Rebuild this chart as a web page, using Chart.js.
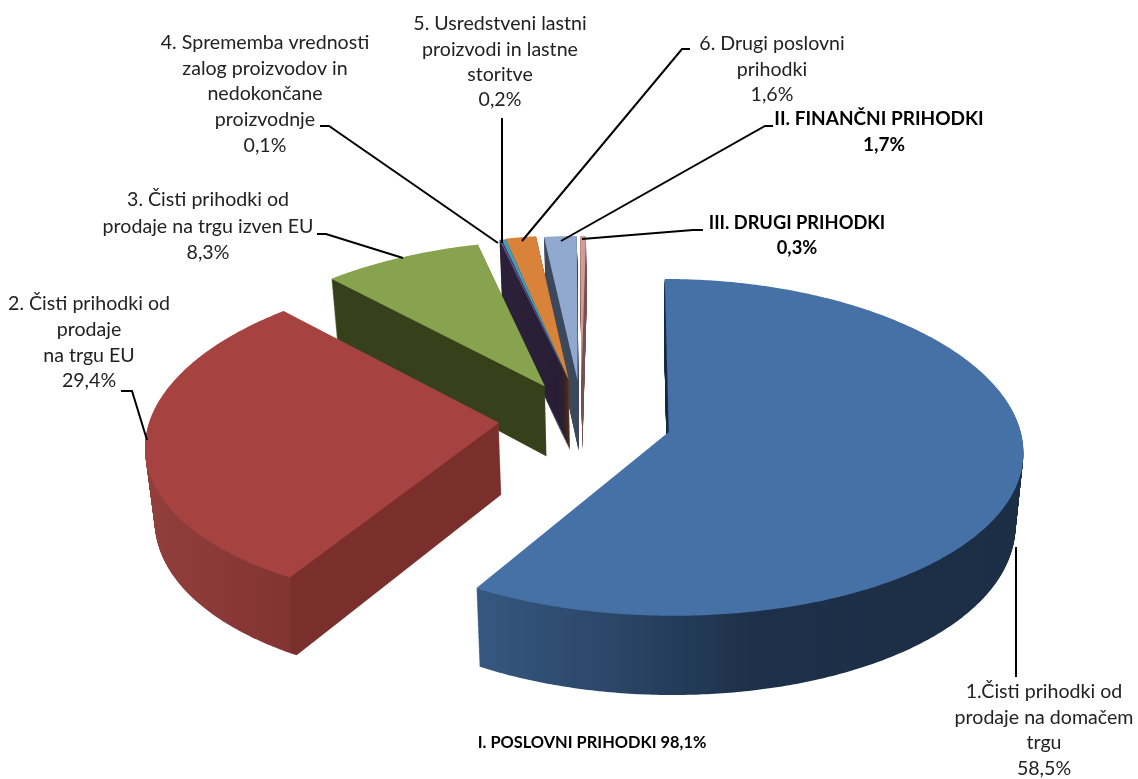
<!DOCTYPE html>
<html>
<head>
<meta charset="utf-8">
<style>html,body{margin:0;padding:0;background:#fff;overflow:hidden}canvas{display:block}</style>
<script src="https://cdn.jsdelivr.net/npm/chart.js@4"></script>
</head>
<body>
<canvas id="c" width="1138" height="779"></canvas>
<script>
const categories = [
  '1.Čisti prihodki od prodaje na domačem trgu',
  '2. Čisti prihodki od prodaje na trgu EU',
  '3. Čisti prihodki od prodaje na trgu izven EU',
  '4. Sprememba vrednosti zalog proizvodov in nedokončane proizvodnje',
  '5. Usredstveni lastni proizvodi in lastne storitve',
  '6. Drugi poslovni prihodki',
  'II. FINANČNI PRIHODKI',
  'III. DRUGI PRIHODKI'
];
const values = [58.5, 29.4, 8.3, 0.1, 0.2, 1.6, 1.7, 0.3];
const topColors = ['#4671a6', '#a64341', '#87a34d', '#6a4f8f', '#3f9fb8', '#d9823a', '#92a9cf', '#d59b99'];
const sideColors = ['#1b2f47', '#7a2f2d', '#37421c', '#2c2138', '#2c2138', '#673c14', '#3e4a5e', '#7a5352'];

// explosion of each slice on the pie's plane, in pie radii
const explodeX = [0.113, -0.372, -0.246, -0.178, -0.176, -0.177, -0.151, -0.14];
const explodeY = [0, 0.055, 0.28, 0.315, 0.315, 0.32, 0.315, 0.315];
const drawOrder = [7, 6, 5, 4, 3, 2, 1, 0];

// camera of the tilted 3-D pie
const cam = {xc: 629, y0: 432, a: 352, b: 167, px: 0.11, py: 0.0913, h: 72, shrink: 0.02, radius: 100};

const labelLines = [
  {x: 1044, ys: [692, 718, 743, 769], size: 19.6, lines: ['1.Čisti prihodki od', 'prodaje na domačem', 'trgu', '58,5%']},
  {x: 89, ys: [304, 330, 356, 381], size: 19.6, lines: ['2. Čisti prihodki od', 'prodaje', 'na trgu EU', '29,4%']},
  {x: 208, ys: [200, 227, 253], size: 19.6, lines: ['3. Čisti prihodki od', 'prodaje na trgu izven EU', '8,3%']},
  {x: 265, ys: [43, 69, 94, 120, 146], size: 19.6, lines: ['4. Sprememba vrednosti', 'zalog proizvodov in', 'nedokončane', 'proizvodnje', '0,1%']},
  {x: 500, ys: [24, 50, 75, 100], size: 19.6, lines: ['5. Usredstveni lastni', 'proizvodi in lastne', 'storitve', '0,2%']},
  {x: 772, ys: [44, 70, 95], size: 19.6, lines: ['6. Drugi poslovni', 'prihodki', '1,6%']},
  {x: 879, ys: [119], size: 19, bold: true, lines: ['II. FINANČNI PRIHODKI']},
  {x: 884, ys: [145], size: 19, bold: true, lines: ['1,7%']},
  {x: 797, ys: [223], size: 18.3, bold: true, lines: ['III. DRUGI PRIHODKI']},
  {x: 797, ys: [248], size: 18.3, bold: true, lines: ['0,3%']},
  {x: 592, ys: [743], size: 16.4, bold: true, lines: ['I. POSLOVNI PRIHODKI 98,1%']}
];
const leaders = [
  [[1016, 547], [1016, 677]],
  [[121, 391], [132, 391], [147, 440]],
  [[317, 234], [326, 234], [403, 258]],
  [[320, 126], [329, 126], [498, 243]],
  [[502, 118], [502, 243]],
  [[690, 49], [682, 49], [522, 241]],
  [[773, 126], [765, 126], [561, 241]],
  [[703, 230], [693, 230], [582, 239]]
];

function project(X, Y, z) {
  const wx = 1 + cam.px * Y, wy = 1 + cam.py * Y, sc = 1 - cam.shrink * z;
  return [cam.xc + sc * cam.a * X / wx, cam.y0 - cam.b * Y / wy + cam.h * z / wy];
}

// a view of the canvas context that sends the arc element's flat path through the camera
function projectedContext(ctx, arcEl, i, z) {
  const cx = arcEl.x, cy = arcEl.y, R = cam.radius;
  const pt = (x, y) => project((x - cx) / R + explodeX[i], -(y - cy) / R + explodeY[i], z);
  return new Proxy(ctx, {
    get(t, k) {
      if (k === 'moveTo') return (x, y) => { const p = pt(x, y); t.moveTo(p[0], p[1]); };
      if (k === 'lineTo') return (x, y) => { const p = pt(x, y); t.lineTo(p[0], p[1]); };
      if (k === 'arc') return (x, y, r, a0, a1, ccw) => {
        const n = Math.max(2, Math.ceil(Math.abs(a1 - a0) / 0.01));
        let d = a1 - a0;
        if (ccw && d > 0) d -= 2 * Math.PI;
        if (!ccw && d < 0) d += 2 * Math.PI;
        for (let s = 0; s <= n; s++) {
          const a = a0 + d * s / n, p = pt(x + r * Math.cos(a), y + r * Math.sin(a));
          t.lineTo(p[0], p[1]);
        }
      };
      const v = t[k];
      return typeof v === 'function' ? v.bind(t) : v;
    },
    set(t, k, v) { t[k] = v; return true; }
  });
}

function sideFill(ctx, i) {
  if (i === 0) {
    const g = ctx.createLinearGradient(482, 0, 1027, 0);
    g.addColorStop(0, '#35577f');
    g.addColorStop(0.25, '#2a4566');
    g.addColorStop(0.5, '#1d3049');
    g.addColorStop(1, '#1b2e45');
    return g;
  }
  if (i === 1) {
    const g = ctx.createLinearGradient(147, 0, 500, 0);
    g.addColorStop(0, '#923f3c');
    g.addColorStop(0.405, '#813433');
    g.addColorStop(0.408, sideColors[1]);
    g.addColorStop(1, sideColors[1]);
    return g;
  }
  return sideColors[i];
}

const pie3d = {
  id: 'pie3d',
  beforeDatasetDraw(chart, args) {
    const ctx = chart.ctx, arcs = chart.getDatasetMeta(args.index).data;
    drawOrder.forEach(i => {
      const el = arcs[i], saved = el.options, side = sideFill(ctx, i);
      const layers = 90;
      for (let l = layers; l > 0; l--) {
        el.options = Object.assign({}, saved, {backgroundColor: side, borderWidth: 0});
        el.draw(projectedContext(ctx, el, i, l / layers));
      }
      if (i === 0) { // the back cut of the big slice stays dark
        ctx.save();
        ctx.beginPath();
        ctx.rect(600, 270, 100, 175);
        ctx.clip();
        for (let l = layers; l > 0; l--) {
          el.options = Object.assign({}, saved, {backgroundColor: sideColors[0], borderWidth: 0});
          el.draw(projectedContext(ctx, el, i, l / layers));
        }
        ctx.restore();
      }
      el.options = saved;
      el.draw(projectedContext(ctx, el, i, 0));
    });
    return false;
  },
  afterDatasetsDraw(chart) {
    const ctx = chart.ctx;
    ctx.save();
    ctx.strokeStyle = '#000';
    ctx.lineWidth = 2;
    leaders.forEach(pts => {
      ctx.beginPath();
      pts.forEach((p, n) => n ? ctx.lineTo(p[0], p[1]) : ctx.moveTo(p[0], p[1]));
      ctx.stroke();
    });
    ctx.textAlign = 'center';
    ctx.textBaseline = 'middle';
    labelLines.forEach(l => {
      ctx.font = (l.bold ? 'bold ' : '') + l.size + 'px Lato, "Open Sans", sans-serif';
      ctx.fillStyle = l.bold ? '#000' : '#222';
      l.lines.forEach((t, n) => ctx.fillText(t, l.x, l.ys[n]));
    });
    ctx.restore();
  }
};

new Chart(document.getElementById('c'), {
  type: 'pie',
  data: {
    labels: categories,
    datasets: [{data: values, backgroundColor: topColors, borderWidth: 0, radius: cam.radius}]
  },
  options: {
    responsive: false,
    devicePixelRatio: 1,
    animation: false,
    layout: {padding: 0},
    plugins: {legend: {display: false}, tooltip: {enabled: false}}
  },
  plugins: [pie3d]
});
</script>
</body>
</html>
